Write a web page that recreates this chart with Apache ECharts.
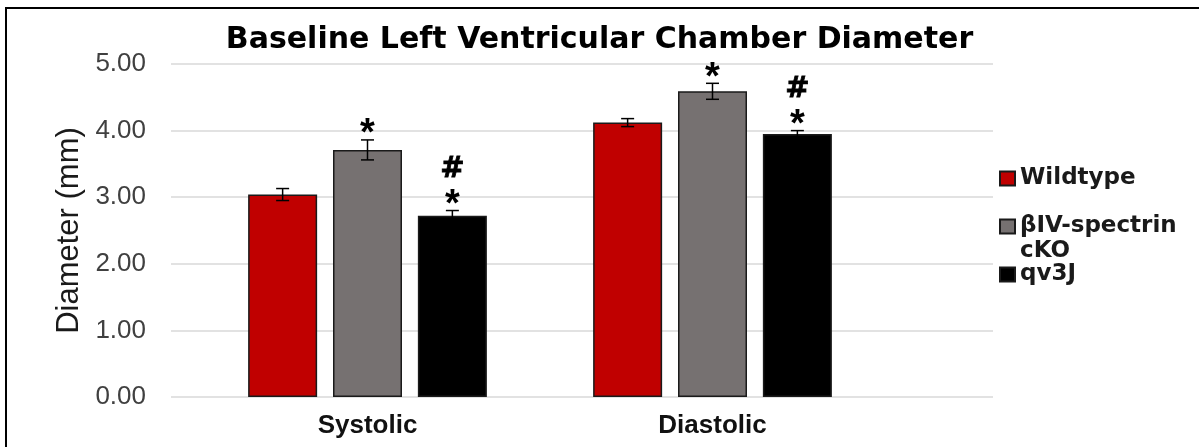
<!DOCTYPE html>
<html>
<head>
<meta charset="utf-8">
<script src="https://cdn.jsdelivr.net/npm/echarts@6/dist/echarts.min.js"></script>
<style>
  html, body { margin: 0; padding: 0; background: #fff; }
  #chart { width: 1199px; height: 447px; }
</style>
</head>
<body>
<div id="chart"></div>
<script>
const categories = ['Systolic', 'Diastolic'];
const seriesNames = ['Wildtype', 'βIV-spectrin cKO', 'qv3J'];
const wildtype = [3.04, 4.12];
const cko = [3.71, 4.59];
const qv3j = [2.72, 3.95];
const wildtypeErr = [0.09, 0.06];
const ckoErr = [0.15, 0.12];
const qv3jErr = [0.08, 0.05];
// significance marks above each bar, listed bottom to top
const wildtypeMarks = ['', ''];
const ckoMarks = ['*', '*'];
const qv3jMarks = ['*#', '*#'];

const colors = ['#C00000', '#767171', '#000000'];
const barWidth = 69;
const barStep = barWidth * 1.23;

function errorSeries(i, means, errs, marks) {
  return {
    type: 'custom',
    xAxisIndex: 1,
    yAxisIndex: 1,
    silent: true,
    z: 5,
    data: means.map((m, k) => [k, m, errs[k]]),
    renderItem: function (params, api) {
      const k = api.value(0), m = api.value(1), e = api.value(2);
      const top = api.coord([k, m + e]);
      const bot = api.coord([k, m - e]);
      const x = top[0] + (i - 1) * barStep;
      const cap = 6.5;
      const line = { stroke: '#000', lineWidth: 1.5 };
      const children = [
        { type: 'line', shape: { x1: x, y1: top[1], x2: x, y2: bot[1] }, style: line },
        { type: 'line', shape: { x1: x - cap, y1: top[1], x2: x + cap, y2: top[1] }, style: line },
        { type: 'line', shape: { x1: x - cap, y1: bot[1], x2: x + cap, y2: bot[1] }, style: line }
      ];
      marks[params.dataIndex].split('').forEach(function (ch, j) {
        const star = ch === '*';
        children.push({
          type: 'text',
          style: {
            text: ch,
            x: x,
            y: top[1] - 13 - j * 28 + (star ? 8 : 0),
            align: 'center',
            verticalAlign: 'middle',
            font: star ? 'bold 38px "Liberation Sans"' : 'bold 29px "DejaVu Sans"',
            fill: '#000',
            stroke: star ? null : '#000',
            lineWidth: star ? 0 : 0.8
          }
        });
      });
      return { type: 'group', children: children };
    }
  };
}

const legendFont = { fontFamily: 'DejaVu Sans', fontWeight: 'bold', fontSize: 23, color: '#1a1a1a' };

const option = {
  animation: false,
  backgroundColor: '#fff',
  title: {
    text: 'Baseline Left Ventricular Chamber Diameter',
    left: 'center',
    top: 20,
    textStyle: { fontFamily: 'DejaVu Sans', fontWeight: 'bold', fontSize: 30, color: '#000' }
  },
  graphic: [{
    type: 'rect',
    shape: { x: 6, y: 8, width: 1200, height: 500 },
    style: { fill: 'none', stroke: '#000', lineWidth: 2 },
    silent: true
  }],
  legend: {
    orient: 'vertical',
    left: 994,
    top: 162,
    icon: 'rect',
    itemWidth: 15,
    itemHeight: 14,
    itemGap: 0,
    data: seriesNames,
    formatter: function (name) {
      if (name === seriesNames[0]) return '{w|' + name + '}';
      if (name === seriesNames[1]) {
        const parts = name.split(' ');
        return '{e| }\n{t|' + parts[0] + '}\n{t|' + parts[1] + '}';
      }
      return '{t|' + name + '}';
    },
    textStyle: Object.assign({}, legendFont, {
      rich: {
        w: Object.assign({ lineHeight: 45 }, legendFont),
        e: Object.assign({ lineHeight: 25 }, legendFont),
        t: Object.assign({ lineHeight: 25 }, legendFont)
      }
    })
  },
  grid: [
    { left: 171, right: 206, top: 64, height: 333 },
    { left: 195, width: 690, top: 64, height: 333 }
  ],
  xAxis: [
    { type: 'category', gridIndex: 0, data: categories, show: false },
    {
      type: 'category',
      gridIndex: 1,
      data: categories,
      axisLine: { show: false },
      axisTick: { show: false },
      axisLabel: {
        margin: 16,
        fontFamily: 'Liberation Sans',
        fontWeight: 'bold',
        fontSize: 26,
        color: '#111'
      }
    }
  ],
  yAxis: [
    {
      type: 'value',
      gridIndex: 0,
      min: 0,
      max: 5,
      interval: 1,
      name: 'Diameter (mm)',
      nameLocation: 'middle',
      nameRotate: 90,
      nameGap: 86,
      nameTextStyle: { fontFamily: 'Liberation Sans', fontSize: 31, color: '#1a1a1a' },
      axisLine: { show: false },
      axisTick: { show: false },
      axisLabel: {
        margin: 25,
        fontFamily: 'Liberation Sans',
        fontSize: 26,
        color: '#404040',
        formatter: v => v.toFixed(2)
      },
      splitLine: { lineStyle: { color: '#d9d9d9', width: 1.5 } }
    },
    { type: 'value', gridIndex: 1, min: 0, max: 5, show: false, splitLine: { show: false } }
  ],
  series: [
    { name: seriesNames[0], type: 'bar', xAxisIndex: 1, yAxisIndex: 1, data: wildtype,
      barWidth: barWidth, barGap: '23%',
      itemStyle: { color: colors[0], borderColor: '#1a1a1a', borderWidth: 1.5 } },
    { name: seriesNames[1], type: 'bar', xAxisIndex: 1, yAxisIndex: 1, data: cko,
      barWidth: barWidth, barGap: '23%',
      itemStyle: { color: colors[1], borderColor: '#1a1a1a', borderWidth: 1.5 } },
    { name: seriesNames[2], type: 'bar', xAxisIndex: 1, yAxisIndex: 1, data: qv3j,
      barWidth: barWidth, barGap: '23%',
      itemStyle: { color: colors[2], borderColor: '#1a1a1a', borderWidth: 1.5 } },
    errorSeries(0, wildtype, wildtypeErr, wildtypeMarks),
    errorSeries(1, cko, ckoErr, ckoMarks),
    errorSeries(2, qv3j, qv3jErr, qv3jMarks)
  ]
};

const myChart = echarts.init(document.getElementById('chart'));
myChart.setOption(option);
window.addEventListener('resize', function () {
  myChart.resize();
});
</script>
</body>
</html>
